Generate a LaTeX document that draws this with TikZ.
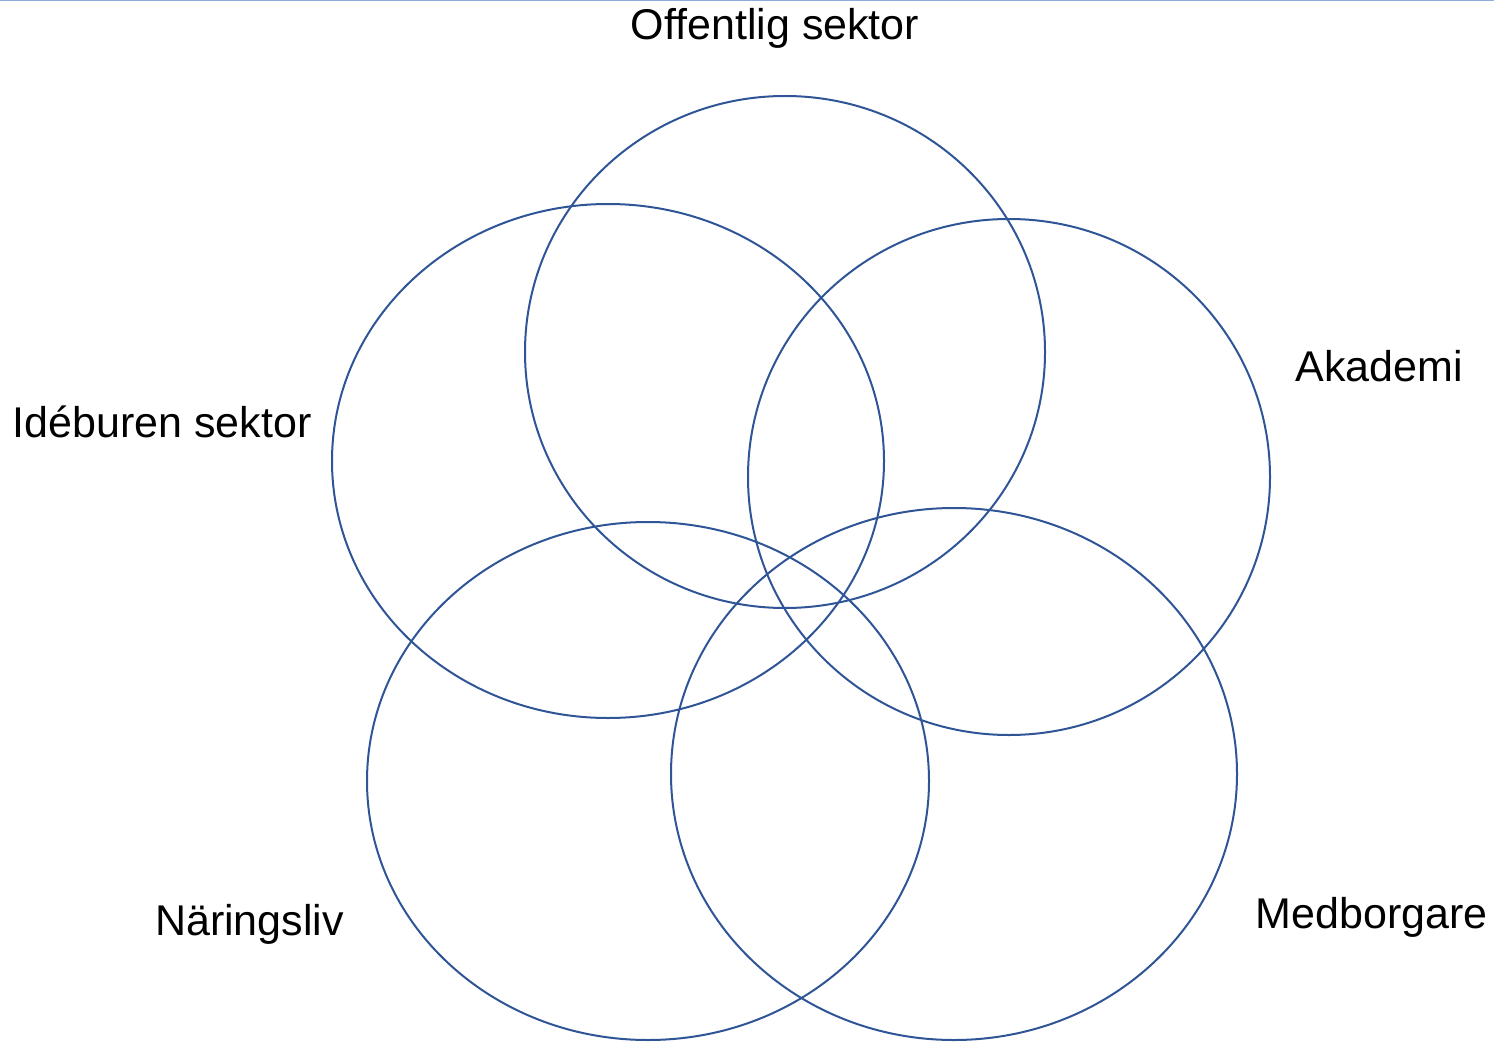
\documentclass[tikz,border=0pt]{standalone}
\usepackage{fontspec}
\setmainfont{Liberation Sans}
\definecolor{ringblue}{HTML}{2F5597}
\definecolor{topline}{HTML}{8FAADC}
\begin{document}
\begin{tikzpicture}[x=1pt,y=-1pt,
  ring/.style={draw=ringblue,line width=2pt},
  lbl/.style={anchor=base,font=\fontsize{43}{49}\selectfont,inner sep=0pt}]
\useasboundingbox (0,0) rectangle (1494,1043);
\draw[topline,line width=1.5pt] (0,0.75) -- (1494,0.75);
\draw[ring] (785,352) ellipse [x radius=260,y radius=256];
\draw[ring] (608,461) ellipse [x radius=276,y radius=257];
\draw[ring] (1009,477) ellipse [x radius=261,y radius=258];
\draw[ring] (648,781) ellipse [x radius=281,y radius=259];
\draw[ring] (954,774) ellipse [x radius=283,y radius=266];
\node[lbl] (off) at (775,40) {Offentlig sektor};
\node[lbl] (ide) at (162,437) {Idéburen sektor};
\node[lbl] (aka) at (1379,381) {Akademi};
\node[lbl] (nar) at (249.5,935) {Näringsliv};
\node[lbl] (med) at (1371.5,928) {Medborgare};
\end{tikzpicture}
\end{document}
